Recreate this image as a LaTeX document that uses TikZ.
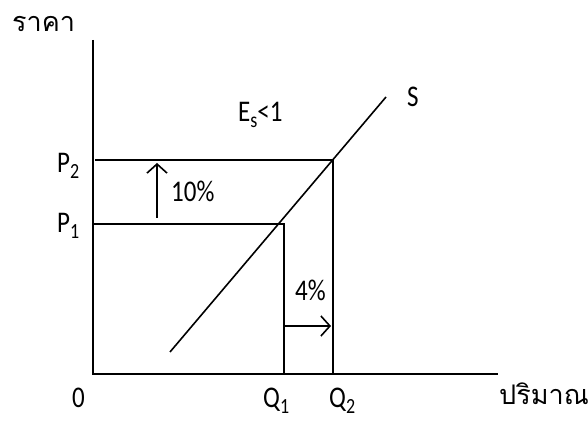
\documentclass[tikz,border=0pt]{standalone}
\usepackage{graphicx}
\usepackage{fontspec}
\setmainfont{Carlito}
\newfontfamily\thaifont[Script=Thai]{Loma}
\usetikzlibrary{arrows.meta}
\newcommand{\lowsub}[1]{\raisebox{-5pt}{\fontsize{18}{18}\selectfont #1}}
\newcommand{\tall}[1]{\scalebox{1}[1.2]{#1}}
\tikzset{
  ln/.style={line width=1.6pt},
  lbl/.style={font=\fontsize{25}{28}\selectfont, inner sep=0pt, anchor=base west},
  thai/.style={font=\thaifont\fontsize{27}{30}\selectfont, inner sep=0pt, anchor=base west},
  arr/.style={line width=1.6pt, -{Straight Barb[length=9pt,width=20pt,line width=1.6pt]}}
}
\begin{document}
\begin{tikzpicture}[x=1pt,y=1pt]
\useasboundingbox (0,0) rectangle (588,425);
% axes corners (y = 425 - pixel y)
\coordinate (ytop) at (93,385);
\coordinate (orig) at (93,51);
\coordinate (xend) at (498,51);
\coordinate (p2l) at (95,265);
\coordinate (p1l) at (93,201);
\coordinate (e2) at (333,265);
\coordinate (e1) at (284,201);
\coordinate (q1) at (284,51);
\coordinate (q2) at (333,51);
\coordinate (slo) at (170,73);
\coordinate (shi) at (386,328);
\coordinate (ua) at (157,207);
\coordinate (ub) at (157,262);
\coordinate (ra) at (284,99);
\coordinate (rb) at (331,99);
\draw[ln] (ytop) -- (orig) -- (xend);
\draw[ln] (p2l) -- (e2) -- (q2);
\draw[ln] (p1l) -- (e1) -- (q1);
\draw[ln] (slo) -- (shi);
\draw[arr] (ua) -- (ub);
\draw[arr] (ra) -- (rb);
\node[thai] (price) at (12,393) {ราคา};
\node[thai] (qty) at (499,20) {ปริมาณ};
\node[lbl] (p2) at (57,252) {\tall{P\lowsub{2}}};
\node[lbl] (p1) at (57,192) {\tall{P\lowsub{1}}};
\node[lbl] (zero) at (72,18) {\tall{0}};
\node[lbl] (q1l) at (263,18) {\tall{Q\lowsub{1}}};
\node[lbl] (q2l) at (329,18) {\tall{Q\lowsub{2}}};
\node[lbl] (es) at (238,303) {\tall{E\lowsub{s}<1}};
\node[lbl] (s) at (407,318) {\tall{S}};
\node[lbl] (ten) at (171,223) {\tall{10\%}};
\node[lbl] (four) at (295,124) {\tall{4\%}};
\end{tikzpicture}
\end{document}
